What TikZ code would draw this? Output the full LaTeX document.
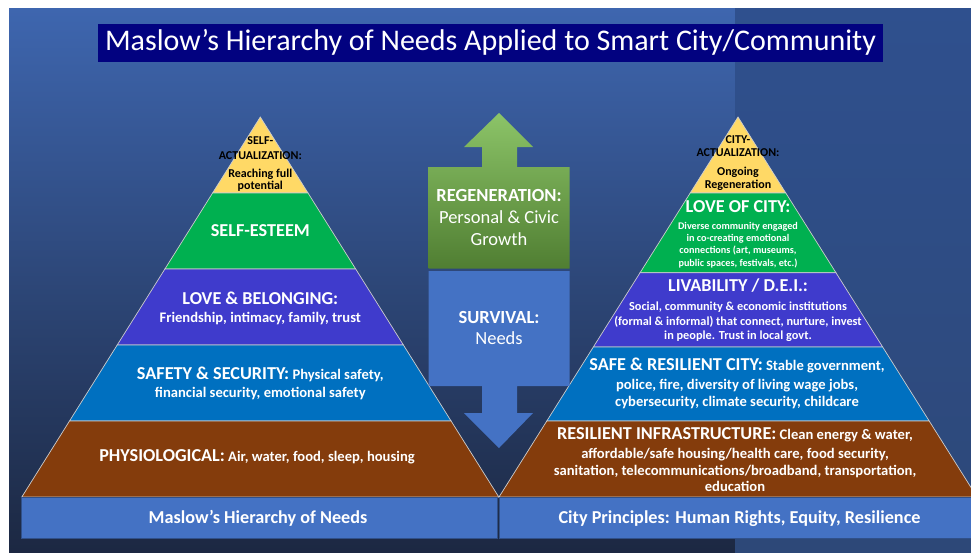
\documentclass[tikz,border=0pt]{standalone}
\usepackage{fontspec}
\setmainfont{Carlito}
\usetikzlibrary{calc}
\definecolor{yel}{RGB}{255,217,102}
\definecolor{grn}{RGB}{0,176,80}
\definecolor{ind}{RGB}{63,59,204}
\definecolor{saf}{RGB}{0,112,192}
\definecolor{brn}{RGB}{132,60,12}
\definecolor{barblue}{RGB}{68,114,196}
\definecolor{navy}{RGB}{2,2,128}
\definecolor{bgtop}{RGB}{62,102,175}
\definecolor{bgbot}{RGB}{28,40,66}
\definecolor{bgrtop}{RGB}{47,80,142}
\definecolor{bgrbot}{RGB}{45,72,120}
\definecolor{gtop}{RGB}{140,196,104}
\definecolor{gbot}{RGB}{80,126,50}
\definecolor{edge}{RGB}{205,205,205}
\tikzset{
  txt/.style={inner sep=0pt, text height=0.68em, text depth=0.18em, text=white, anchor=center, yshift=-2.5pt},
  big/.style={txt, font=\fontsize{18.2}{21}\selectfont\bfseries},
  mid/.style={txt, font=\fontsize{14.6}{17}\selectfont\bfseries},
  sml/.style={txt, font=\fontsize{12.3}{14}\selectfont\bfseries},
  tiny/.style={txt, font=\fontsize{10.2}{12}\selectfont\bfseries},
  act/.style={txt, text=black, font=\fontsize{12}{14}\selectfont\bfseries},
  ctr/.style={txt, font=\fontsize{18.5}{21}\selectfont},
  layer/.style={draw=edge, line width=0.7pt, line join=miter},
}
\newcommand{\pyrlayer}[4]{% prefix, t1, t2, color
  \filldraw[layer, fill=#4] ($(#1A)!#2!(#1L)$) -- ($(#1A)!#2!(#1R)$) -- ($(#1A)!#3!(#1R)$) -- ($(#1A)!#3!(#1L)$) -- cycle;}
\newcommand{\bigpart}[1]{{\fontsize{18.2}{21}\selectfont #1}}
\begin{document}
\begin{tikzpicture}[x=1pt,y=-1pt]
\useasboundingbox (0,0) rectangle (971,552);
% background
\fill[white] (0,0) rectangle (971,552);
\shade[top color=bgtop, bottom color=bgbot] (9,8) rectangle (735,552);
\shade[top color=bgrtop, bottom color=bgrbot] (735,8) rectangle (971,552);
% title
\node[fill=navy, minimum width=785pt, minimum height=38pt, inner sep=0pt, yshift=-1pt,
      text=white, font=\fontsize{30}{34}\selectfont] (title) at (490.5,41.5)
      {Maslow’s Hierarchy of Needs Applied to Smart City/Community};
% pyramid coordinates
\coordinate (pA) at (260.3,117);
\coordinate (pL) at (21.8,497);
\coordinate (pR) at (498.8,497);
\coordinate (qA) at (738,117);
\coordinate (qL) at (499,497);
\coordinate (qR) at (977,497);
% left pyramid
\pyrlayer{p}{0}{0.2}{yel}
\pyrlayer{p}{0.2}{0.4}{grn}
\pyrlayer{p}{0.4}{0.6}{ind}
\pyrlayer{p}{0.6}{0.8}{saf}
\pyrlayer{p}{0.8}{1}{brn}
% right pyramid
\pyrlayer{q}{0}{0.2}{yel}
\pyrlayer{q}{0.2}{0.41}{grn}
\pyrlayer{q}{0.41}{0.605}{ind}
\pyrlayer{q}{0.605}{0.8}{saf}
\pyrlayer{q}{0.8}{1}{brn}
% bottom bars
\node[fill=barblue, draw=barblue!70!black, line width=0.5pt, minimum width=476pt, minimum height=41pt, inner sep=0pt] (lbar) at (259.5,517.5) {};
\node[fill=barblue, draw=barblue!70!black, line width=0.5pt, minimum width=475pt, minimum height=41pt, inner sep=0pt] (rbar) at (737,517.5) {};
\node[big] (lbart) at (258,518.5) {Maslow’s Hierarchy of Needs};
\node[big] (rbart) at (739.5,518.5) {City Principles: Human Rights, Equity, Resilience};
% center arrows
\shade[top color=gtop, bottom color=gbot]
  (499,113) -- (533,147) -- (517,147) -- (517,167) -- (569.5,167) -- (569.5,268.5)
  -- (428.5,268.5) -- (428.5,167) -- (482,167) -- (482,147) -- (464,147) -- cycle;
\fill[barblue]
  (428.5,271) -- (569.5,271) -- (569.5,386) -- (517,386) -- (517,413) -- (533,413)
  -- (499,448) -- (464,413) -- (482,413) -- (482,386) -- (428.5,386) -- cycle;
\node[ctr, font=\fontsize{18.5}{21}\selectfont\bfseries] (regen) at (499,196.7) {REGENERATION:};
\node[ctr] (pcivic) at (499,218.3) {Personal \& Civic};
\node[ctr] (growth) at (499,240) {Growth};
\node[ctr, font=\fontsize{18.5}{21}\selectfont\bfseries] (surv) at (499,318.3) {SURVIVAL:};
\node[ctr] (needs) at (499,339.3) {Needs};
% left pyramid text
\node[act] (la1) at (260.3,139) {SELF-};
\node[act] (la2) at (260.3,154) {ACTUALIZATION:};
\node[act] (la3) at (260.3,172.7) {Reaching full};
\node[act] (la4) at (260.3,184) {potential};
\node[big] (les) at (260.3,231) {SELF-ESTEEM};
\node[big] (llb1) at (260.3,299) {LOVE \& BELONGING:};
\node[mid] (llb2) at (260.3,317.3) {Friendship, intimacy, family, trust};
\node[mid] (lsf1) at (260.3,374.3) {\bigpart{SAFETY \& SECURITY:} Physical safety,};
\node[mid] (lsf2) at (260.3,392.3) {financial security, emotional safety};
\node[mid] (lph) at (257,456.7) {\bigpart{PHYSIOLOGICAL:} Air, water, food, sleep, housing};
% right pyramid text
\node[act] (ra1) at (738,138.3) {CITY-};
\node[act] (ra2) at (738,151.7) {ACTUALIZATION:};
\node[act] (ra3) at (738,170.3) {Ongoing};
\node[act] (ra4) at (738,183.3) {Regeneration};
\node[big] (rlc) at (738,207.3) {LOVE OF CITY:};
\node[tiny] (rlc1) at (738,224) {Diverse community engaged};
\node[tiny] (rlc2) at (738,236.3) {in co-creating emotional};
\node[tiny] (rlc3) at (738,248.3) {connections (art, museums,};
\node[tiny] (rlc4) at (738,261.7) {public spaces, festivals, etc.)};
\node[big] (rlv) at (738,286.7) {LIVABILITY / D.E.I.:};
\node[sml] (rlv1) at (738,305.7) {Social, community \& economic institutions};
\node[sml] (rlv2) at (738,320) {(formal \& informal) that connect, nurture, invest};
\node[sml] (rlv3) at (738,334.3) {in people. Trust in local govt.};
\node[mid] (rsf1) at (737,365.7) {\bigpart{SAFE \& RESILIENT CITY:} Stable government,};
\node[mid] (rsf2) at (737,384) {police, fire, diversity of living wage jobs,};
\node[mid] (rsf3) at (737,401) {cybersecurity, climate security, childcare};
\node[mid] (rri1) at (735,434) {\bigpart{RESILIENT INFRASTRUCTURE:} Clean energy \& water,};
\node[mid] (rri2) at (735,453) {affordable/safe housing/health care, food security,};
\node[mid] (rri3) at (735,470.3) {sanitation, telecommunications/broadband, transportation,};
\node[mid] (rri4) at (735,486.7) {education};
\end{tikzpicture}
\end{document}
